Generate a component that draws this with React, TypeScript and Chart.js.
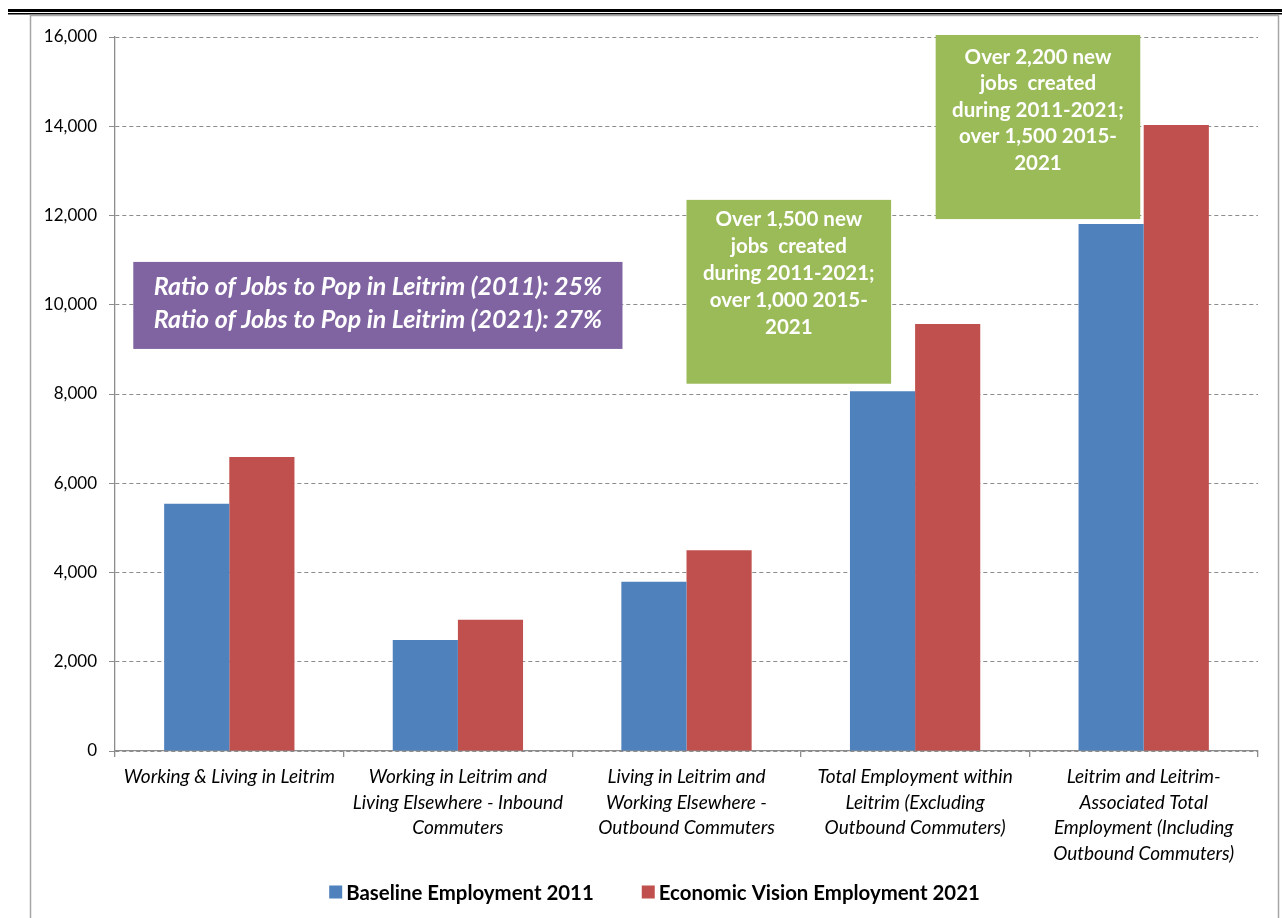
import React, { useEffect, useRef } from "react";
import { Chart, registerables } from "chart.js";

Chart.register(...registerables);

// ---- data ----
const categories: string[][] = [
  ["Working & Living in Leitrim"],
  ["Working in Leitrim and", "Living Elsewhere - Inbound", "Commuters"],
  ["Living in Leitrim and", "Working Elsewhere -", "Outbound Commuters"],
  ["Total Employment within", "Leitrim (Excluding", "Outbound Commuters)"],
  ["Leitrim and Leitrim-", "Associated Total", "Employment (Including", "Outbound Commuters)"],
];
const baseline2011 = [5540, 2490, 3790, 8060, 11810];
const vision2021 = [6590, 2940, 4500, 9570, 14030];
const seriesNames = ["Baseline Employment 2011", "Economic Vision Employment 2021"];
const yMin = 0;
const yMax = 16000;
const yStep = 2000;

const ratioNoteLines = [
  "Ratio of Jobs to Pop in Leitrim (2011): 25%",
  "Ratio of Jobs to Pop in Leitrim (2021): 27%",
];
const totalNoteLines = ["Over 1,500 new", "jobs  created", "during 2011-2021;", "over 1,000 2015-", "2021"];
const associatedNoteLines = ["Over 2,200 new", "jobs  created", "during 2011-2021;", "over 1,500 2015-", "2021"];

// annotation boxes in data coordinates (x: category index units, y: value units)
const notes = [
  { lines: ratioNoteLines, x0: -0.42, x1: 1.72, y0: 9010, y1: 10960, color: "#8064A2", font: "italic bold 25px Lato", lineGap: 33, mode: "center", firstOffset: 0 },
  { lines: totalNoteLines, x0: 2.0, x1: 2.895, y0: 8230, y1: 12350, color: "#9BBB59", font: "bold 20.5px Lato", lineGap: 27, mode: "top", firstOffset: 20 },
  { lines: associatedNoteLines, x0: 3.09, x1: 3.985, y0: 11920, y1: 16045, color: "#9BBB59", font: "bold 20.5px Lato", lineGap: 26.5, mode: "top", firstOffset: 22 },
];

const BLUE = "#4F81BD";
const RED = "#C0504D";
const GRID = "#8C8C8C";

const decorPlugin = {
  id: "decor",
  beforeDraw(chart: any) {
    const ctx = chart.ctx;
    const W = chart.width;
    const H = chart.height;
    ctx.save();
    ctx.fillStyle = "#ffffff";
    ctx.fillRect(0, 0, W, H);
    // double rule on top
    ctx.fillStyle = "#000000";
    ctx.fillRect(8, 9, W - 8, 3);
    ctx.fillRect(8, 13, W - 8, 1.5);
    // gray frame
    ctx.strokeStyle = "#A6A6A6";
    ctx.lineWidth = 1.5;
    ctx.beginPath();
    ctx.moveTo(30.5, H + 2);
    ctx.lineTo(30.5, 15.5);
    ctx.lineTo(1278.5, 15.5);
    ctx.lineTo(1278.5, H + 2);
    ctx.stroke();
    ctx.restore();
  },
  afterDatasetsDraw(chart: any) {
    const ctx = chart.ctx;
    const xs = chart.scales.x;
    const ys = chart.scales.y;
    ctx.save();
    for (const n of notes) {
      const left = xs.getPixelForValue(n.x0);
      const right = xs.getPixelForValue(n.x1);
      const top = ys.getPixelForValue(n.y1);
      const bottom = ys.getPixelForValue(n.y0);
      ctx.fillStyle = n.color;
      ctx.fillRect(left, top, right - left, bottom - top);
      ctx.fillStyle = "#ffffff";
      ctx.font = n.font;
      ctx.textAlign = "center";
      ctx.textBaseline = "middle";
      const cx = (left + right) / 2;
      let y0: number;
      if (n.mode === "center") {
        y0 = (top + bottom) / 2 - ((n.lines.length - 1) * n.lineGap) / 2 - 2;
      } else {
        y0 = top + n.firstOffset;
      }
      n.lines.forEach((t, i) => ctx.fillText(t, cx, y0 + i * n.lineGap));
    }
    ctx.restore();
  },
  afterDraw(chart: any) {
    // legend
    const ctx = chart.ctx;
    ctx.save();
    ctx.font = "bold 20.4px Lato";
    ctx.textBaseline = "middle";
    ctx.textAlign = "left";
    const box = 13;
    const gapText = 4;
    const gapItem = 48;
    const colors = [BLUE, RED];
    const widths = seriesNames.map((s) => ctx.measureText(s).width);
    const total = widths.reduce((a, b) => a + b, 0) + seriesNames.length * (box + gapText) + gapItem * (seriesNames.length - 1);
    let x = (30 + 1279) / 2 - total / 2;
    const cy = 892;
    seriesNames.forEach((s, i) => {
      ctx.fillStyle = colors[i];
      ctx.fillRect(x, cy - box / 2, box, box);
      x += box + gapText;
      ctx.fillStyle = "#000000";
      ctx.fillText(s, x, cy + 1);
      x += widths[i] + gapItem;
    });
    ctx.restore();
  },
};

export default function App() {
  const ref = useRef<HTMLCanvasElement | null>(null);
  useEffect(() => {
    if (!ref.current) return;
    const chart = new Chart(ref.current, {
      type: "bar",
      data: {
        labels: categories,
        datasets: [
          { label: seriesNames[0], data: baseline2011, backgroundColor: BLUE, borderWidth: 0 },
          { label: seriesNames[1], data: vision2021, backgroundColor: RED, borderWidth: 0 },
        ],
      },
      options: {
        responsive: false,
        animation: false,
        devicePixelRatio: 1,
        layout: { padding: { left: 0, right: 24, top: 37, bottom: 0 } },
        datasets: { bar: { categoryPercentage: 0.57, barPercentage: 1 } },
        plugins: { legend: { display: false }, tooltip: { enabled: false } },
        scales: {
          x: {
            type: "category",
            offset: true,
            grid: {
              offset: true,
              drawOnChartArea: false,
              drawTicks: true,
              tickLength: 6,
              color: GRID,
              lineWidth: 1.3,
            },
            border: { display: true, color: GRID, width: 1.3 },
            ticks: {
              color: "#000000",
              padding: 7,
              maxRotation: 0,
              autoSkip: false,
              font: { family: "Lato", size: 19, style: "italic", lineHeight: 1.35 },
            },
            afterFit(scale: any) {
              scale.height = 167;
            },
          },
          y: {
            min: yMin,
            max: yMax,
            ticks: {
              stepSize: yStep,
              color: "#000000",
              padding: 12,
              font: { family: "Lato", size: 17 },
              callback: (v: any) => Number(v).toLocaleString("en-US"),
            },
            grid: {
              color: GRID,
              lineWidth: 1,
              tickLength: 6,
              drawTicks: true,
            },
            border: { display: true, color: GRID, width: 1.3, dash: [4, 3] },
            afterFit(scale: any) {
              scale.width = 115;
            },
          },
        },
      },
      plugins: [decorPlugin],
    });
    return () => chart.destroy();
  }, []);
  return (
    <div style={{ position: "absolute", left: 0, top: 0, width: 1282, height: 918, background: "#fff" }}>
      <canvas ref={ref} width={1282} height={918} style={{ display: "block" }} />
    </div>
  );
}
